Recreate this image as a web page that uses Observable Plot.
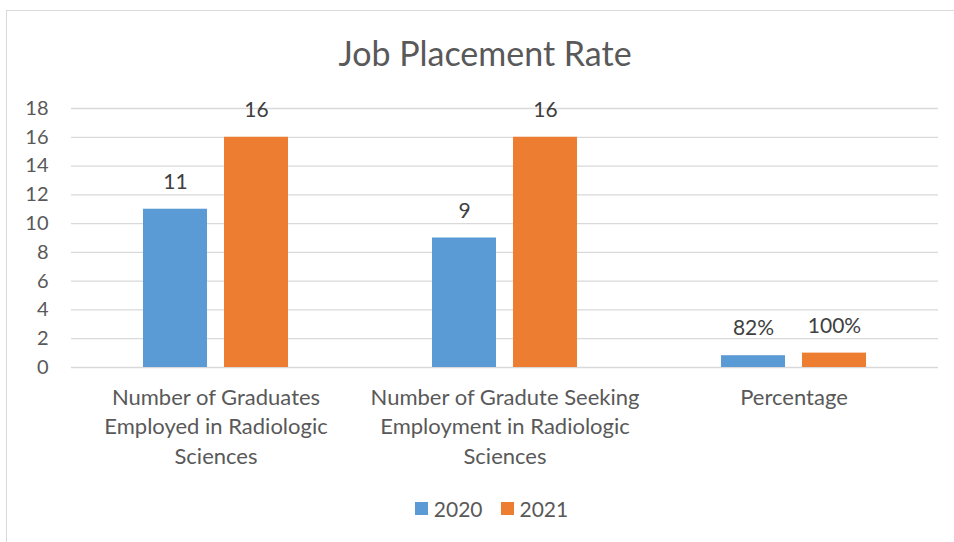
<!DOCTYPE html>
<html><head><meta charset="utf-8">
<script src="https://cdn.jsdelivr.net/npm/d3@7"></script>
<script src="https://cdn.jsdelivr.net/npm/@observablehq/plot@0.6"></script>
<style>
body{margin:0;background:#fff;font-family:Lato,"Open Sans",sans-serif;color:#595959;}
#chart{position:relative;width:954px;height:542px;overflow:hidden;background:#fff;}
#border{position:absolute;left:6px;top:10px;width:970px;height:580px;border:1px solid #d9d9d9;box-sizing:border-box;}
#title{position:absolute;top:33px;left:0;width:970px;text-align:center;font-size:34px;line-height:40px;color:#595959;}
#plot{position:absolute;top:90px;left:0;}
#legend{position:absolute;top:496px;left:0;width:983px;display:flex;justify-content:center;align-items:center;font-size:21px;color:#595959;}
.item{display:flex;align-items:center;margin:0 9px;}
.sw{width:13px;height:13px;margin-right:6px;}
</style></head>
<body>
<div id="chart">
  <div id="border"></div>
  <div id="title">Job Placement Rate</div>
  <div id="plot"></div>
  <div id="legend"></div>
</div>
<script>
const categories = [
  "Number of Graduates\nEmployed in Radiologic\nSciences",
  "Number of Gradute Seeking\nEmployment in Radiologic\nSciences",
  "Percentage"
];
const series = ["2020", "2021"];
const colors = ["#5B9BD5", "#ED7D31"];
const values2020 = [11, 9, 0.82];
const values2021 = [16, 16, 1];
const labels2020 = ["11", "9", "82%"];
const labels2021 = ["16", "16", "100%"];
const yTicks = [0, 2, 4, 6, 8, 10, 12, 14, 16, 18];

const data = [];
categories.forEach((c, i) => {
  data.push({category: c, series: series[0], value: values2020[i], label: labels2020[i]});
  data.push({category: c, series: series[1], value: values2021[i], label: labels2021[i]});
});

const chart = Plot.plot({
  width: 954,
  height: 390,
  marginTop: 18,
  marginBottom: 113,
  marginLeft: 71,
  marginRight: 16,
  style: {fontFamily: "Lato, 'Open Sans', sans-serif", color: "#595959", background: "transparent"},
  fx: {domain: categories, padding: 0, label: null},
  x: {domain: series, paddingInner: 0.21, paddingOuter: 0.87, axis: null},
  y: {domain: [0, 18], label: null},
  color: {domain: series, range: colors},
  marks: [
    Plot.gridY(yTicks, {stroke: "#d9d9d9", strokeOpacity: 1, strokeWidth: 1.3}),
    Plot.barY(data, {fx: "category", x: "series", y: "value", fill: "series"}),
    Plot.text(data, {fx: "category", x: "series", y: "value", text: "label", dy: -27, fontSize: 21, fill: "#404040"}),
    Plot.axisY(yTicks, {tickSize: 0, tickPadding: 23, fontSize: 20, fill: "#595959", label: null}),
    Plot.axisFx({anchor: "bottom", tickSize: 0, tickPadding: 16, fontSize: 22, lineHeight: 1.35, fill: "#595959", label: null})
  ]
});
document.getElementById("plot").appendChild(chart);

const legend = document.getElementById("legend");
series.forEach((s, i) => {
  const item = document.createElement("div");
  item.className = "item";
  const sw = document.createElement("div");
  sw.className = "sw";
  sw.style.background = colors[i];
  const t = document.createElement("span");
  t.textContent = s;
  item.appendChild(sw);
  item.appendChild(t);
  legend.appendChild(item);
});
</script>
</body></html>
